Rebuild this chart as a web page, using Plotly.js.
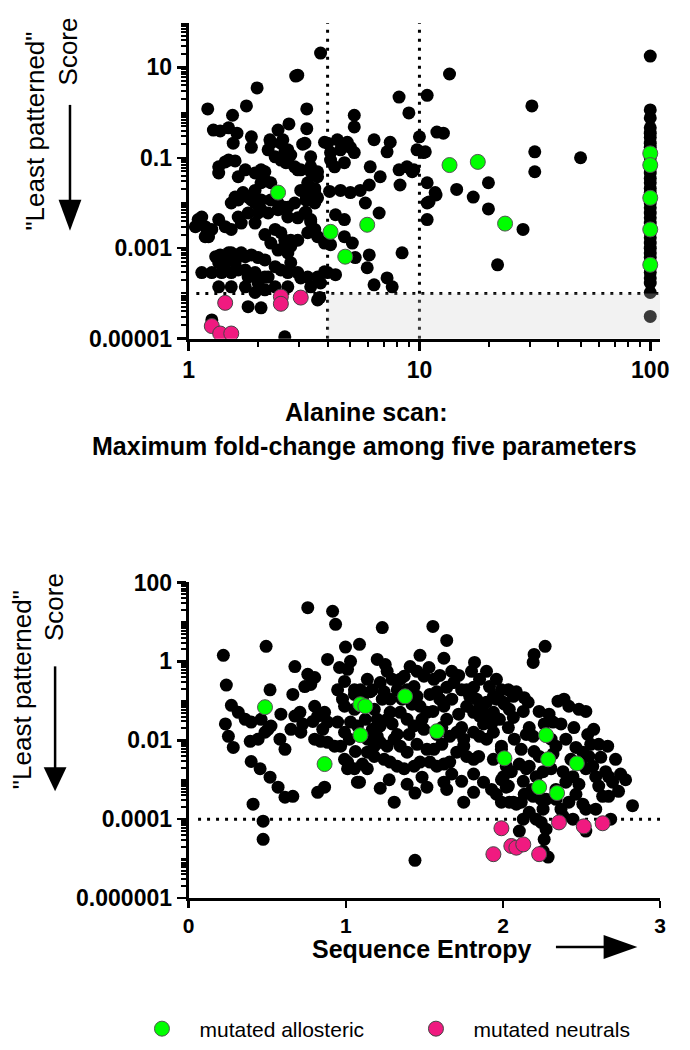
<!DOCTYPE html>
<html>
<head>
<meta charset="utf-8">
<script src="https://cdn.plot.ly/plotly-3.0.1.min.js"></script>
<style>
  body { margin: 0; background: #fff; }
  #graph { width: 690px; height: 1050px; }
</style>
</head>
<body>
<div id="graph"></div>
<script>
// ---- top panel: alanine scan fold-change vs score ----
var topBlackX = [
  3.73,2.91,1.98,1.21,1.78,3.25,1.55,2.72,1.28,1.37,
  1.49,2.44,3.25,1.62,1.87,1.56,2.27,2.56,1.87,3.12,
  2.61,2.77,3.38,1.49,1.59,1.35,1.35,1.64,2.06,1.94,
  2.64,2.88,3.06,3.38,3.62,2.14,2.27,1.59,1.72,1.87,
  2.06,1.53,2.27,2.44,2.61,3.28,3.19,3.38,3.62,1.10,
  1.18,1.26,1.35,1.44,1.53,1.64,1.81,2.00,2.37,2.51,
  2.61,2.77,2.97,3.28,3.52,1.22,1.53,1.64,1.76,1.87,
  2.00,2.14,1.31,1.44,2.44,2.69,2.77,1.14,1.26,1.39,
  1.53,1.64,1.81,2.00,2.21,2.37,2.51,2.69,2.97,3.28,
  3.62,4.0,1.35,1.53,1.76,2.00,2.37,2.69,3.38,3.73,
  1.81,2.06,3.62,1.26,2.61,2.25,3.19,2.51,2.69,2.21,
  2.37,2.51,2.69,3.88,4.12,1.44,1.76,2.14,3.38,3.62,
  1.64,1.81,1.94,2.06,1.94,2.06,2.21,2.44,2.69,2.88,
  3.06,3.28,3.52,3.22,3.52,1.14,1.07,1.18,1.69,1.94,
  2.14,2.27,2.61,2.69,2.97,3.19,3.38,2.77,3.62,3.88,
  1.37,1.49,1.69,1.35,1.59,1.76,1.94,2.14,3.88,1.94,
  2.14,3.70,2.97,8.16,10.8,13.5,5.22,5.22,9.0,4.0,
  4.41,4.87,4.55,5.02,5.22,6.36,7.47,7.24,10,9.76,
  10.4,11.9,12.7,4.12,4.29,4.73,6.12,6.76,8.16,8.83,
  9.3,8.24,10.8,11.7,10.8,10.8,2.97,3.52,4.08,4.55,
  5.02,5.54,6.06,5.83,6.69,3.22,3.38,4.33,4.73,4.12,
  4.73,5.12,5.27,6.06,5.94,6.36,7.24,7.62,8.41,3.06,
  4.33,30.7,31.6,49.9,31.6,10.6,9.46,11.8,14.5,17.1,
  19.9,19.9,28.1,21.8,11.0,
  100,100,100,100,100,100,100,100,100,100,
  100,100,100,100,100,100,100,100,100,100,
  100,100,100,100,100,100,100,100,100,100,
  100,100,100,100,100,100,100
];
var topBlackY = [
  20.6,6.4,3.5,1.2,1.4,1.2,0.87,0.56,0.41,0.39,
  0.46,0.41,0.44,0.35,0.29,0.21,0.21,0.25,0.17,0.2,
  0.135,0.115,0.105,0.089,0.085,0.063,0.046,0.038,0.054,0.046,
  0.078,0.063,0.054,0.063,0.049,0.032,0.028,0.0135,0.017,0.0117,
  0.0117,0.01,0.0117,0.01,0.0081,0.023,0.017,0.0117,0.013,0.0043,
  0.003,0.0026,0.0043,0.003,0.0026,0.0049,0.006,0.006,0.0026,0.0022,
  0.0015,0.0015,0.0015,0.0022,0.0026,0.0018,0.00079,0.00065,0.00065,0.00071,
  0.00062,0.00055,0.00065,0.00048,0.00091,0.00079,0.00048,0.00029,0.00029,0.00029,
  0.00029,0.00033,0.00023,0.00023,0.00023,0.00039,0.00033,0.00029,0.00029,0.00023,
  0.00023,0.00029,0.00014,0.00014,0.00014,0.00017,0.00014,0.00014,0.00014,0.00017,
  0.000051,0.000048,0.000072,0.000026,0.000011,0.25,0.21,0.21,0.15,0.15,
  0.105,0.089,0.081,0.22,0.13,0.081,0.054,0.049,0.049,0.038,
  0.0117,0.0135,0.019,0.028,0.01,0.0071,0.006,0.0071,0.0081,0.01,
  0.019,0.028,0.021,0.0117,0.01,0.0049,0.003,0.0018,0.0036,0.0036,
  0.002,0.0013,0.0011,0.0049,0.0047,0.006,0.0043,0.0011,0.0018,0.0013,
  0.00071,0.00079,0.00079,0.00048,0.00048,0.00033,0.00029,0.00023,0.0003,0.000105,
  0.00012,0.000081,6.7,2.2,2.4,7.1,0.87,0.48,0.98,0.21,
  0.25,0.22,0.15,0.17,0.13,0.25,0.22,0.135,0.29,0.15,
  0.13,0.37,0.35,0.089,0.063,0.078,0.063,0.038,0.054,0.063,
  0.049,0.025,0.028,0.017,0.01,0.0043,0.054,0.017,0.018,0.019,
  0.017,0.019,0.025,0.01,0.006,0.0063,0.0038,0.0055,0.0043,0.0012,
  0.0018,0.0013,0.00062,0.00071,0.00037,0.000155,0.00022,0.00014,0.00079,0.00022,
  0.00026,1.4,0.135,0.1,0.049,0.135,0.054,0.015,0.02,0.0135,
  0.028,0.0074,0.0026,0.00043,0.0105,
  17.7,1.14,0.76,0.46,0.35,0.28,0.21,0.17,0.13,0.1,
  0.078,0.059,0.046,0.035,0.028,0.021,0.017,0.013,0.01,0.0078,
  0.006,0.0047,0.0036,0.0028,0.0022,0.0017,0.0013,0.001,0.00079,0.00062,
  0.00048,0.00037,0.00029,0.00022,0.00017,0.000105,0.000031
];
var topGreenX = [2.44,4.12,5.94,4.77,13.5,17.9,23.5,100,100,100,100,100];
var topGreenY = [0.017,0.0023,0.0033,0.00065,0.069,0.081,0.0035,0.125,0.069,0.013,0.0026,0.00043];
var topPinkX = [1.44,2.51,2.51,3.06,1.26,1.37,1.53];
var topPinkY = [0.000062,0.000085,0.000059,0.000081,0.000019,0.000013,0.000013];

// ---- bottom panel: sequence entropy vs score ----
var botBlackX = [
  0.758,0.916,0.935,0.221,0.493,0.884,0.676,0.24,0.518,0.758,
  0.802,0.777,0.739,0.663,0.272,0.316,0.36,0.398,0.234,0.253,
  0.284,0.392,0.442,0.486,0.524,0.587,0.461,0.505,0.581,0.613,
  0.651,0.676,0.708,0.714,0.802,0.821,0.865,0.884,0.802,0.84,
  0.884,0.929,0.398,0.455,0.518,0.569,0.613,0.663,0.41,0.474,
  0.474,0.821,0.865,0.998,1.03,1.011,0.992,1.055,0.992,0.948,
  0.992,0.967,0.992,1.011,1.074,1.232,1.554,1.642,1.472,1.624,
  1.819,1.087,1.263,1.409,1.371,1.346,1.497,1.56,1.598,1.718,
  1.687,1.642,1.8,1.851,1.813,1.788,1.914,1.939,1.895,1.851,
  2.009,2.066,2.04,1.137,1.093,1.156,1.055,1.219,1.244,1.282,
  1.327,1.434,1.453,1.472,1.516,1.579,1.598,1.624,1.769,1.813,
  1.851,1.895,1.939,1.977,1.055,1.03,1.074,1.181,1.2,1.219,
  1.263,1.282,1.346,1.39,1.434,1.497,1.642,1.661,1.706,1.75,
  1.813,1.851,1.895,1.939,1.137,1.181,1.219,1.263,1.308,1.346,
  1.39,1.137,1.181,1.244,1.282,1.327,1.371,1.434,1.472,1.535,
  1.579,1.624,1.56,1.661,1.706,1.75,1.769,1.813,1.845,1.011,
  1.055,1.087,1.219,1.308,1.44,1.516,1.624,1.642,1.75,1.813,
  1.876,1.813,1.99,2.021,1.939,1.99,2.021,2.053,1.99,2.04,
  2.085,1.44,2.268,2.198,2.192,2.085,2.135,2.16,2.003,2.066,
  2.129,2.23,2.293,2.35,2.388,2.419,2.483,2.527,2.318,2.034,
  2.167,2.192,2.451,2.539,2.609,2.666,2.337,2.318,2.464,2.508,
  2.546,2.198,2.23,2.104,2.148,2.167,1.99,2.003,2.034,2.129,
  2.211,2.255,2.306,2.382,2.4,2.445,2.527,2.571,2.59,2.653,
  2.672,2.697,2.609,2.634,2.672,2.735,2.824,2.066,2.116,2.192,
  2.274,2.337,2.464,2.419,2.508,2.167,2.211,2.255,2.382,2.445,
  2.527,2.59,2.129,2.104,2.243,2.274,2.262,2.255,2.287,2.685,
  2.527,0.979,0.948,1.023,1.106,1.124,1.169,1.232,1.295,1.358,
  1.402,1.453,1.485,1.535,1.554,1.611,1.674,1.718,1.737,1.769,
  1.832,1.876,1.927,1.958,1.99,2.034,2.072,2.116,2.148,2.262,
  2.306,2.369,2.4,2.432,2.495,2.558,2.577,2.622,2.716,2.748,
  2.78,2.135,2.337,2.369,2.483,1.579,1.421,1.327,1.2,1.061,
  1.106,1.516,1.611,1.169,1.295,1.39,1.674,1.737,1.895,1.958,
  1.529,1.453,1.251,1.2,0.96,0.726,0.79,0.853,1.137,1.276,
  1.39,1.485,1.674,1.737,1.927,1.958,2.186,2.243
];
var botBlackY = [
  23,18.6,8.7,1.42,2.4,1.12,0.74,0.25,0.19,0.47,
  0.39,0.26,0.23,0.145,0.077,0.051,0.034,0.029,0.026,0.0126,
  0.0066,0.0094,0.0107,0.016,0.023,0.046,0.034,0.019,0.0107,0.0059,
  0.019,0.041,0.051,0.016,0.073,0.041,0.051,0.029,0.0107,0.0094,
  0.0089,0.0071,0.0029,0.0019,0.00116,0.00065,0.00036,0.00038,0.00024,0.000089,
  0.000031,0.00048,0.00065,2.3,1.0,0.63,0.31,0.19,0.073,0.029,
  0.016,0.0071,0.0033,0.0019,0.00087,7.2,7.7,3.4,1.42,1.2,
  0.94,2.7,0.56,0.74,0.42,0.35,0.42,0.35,0.44,0.44,
  0.29,0.22,0.56,0.35,0.22,0.13,0.23,0.13,0.092,0.069,
  0.082,0.13,0.061,0.35,0.19,0.17,0.145,0.29,0.17,0.11,
  0.19,0.23,0.13,0.073,0.051,0.17,0.11,0.073,0.073,0.051,
  0.041,0.046,0.051,0.034,0.061,0.029,0.023,0.061,0.034,0.023,
  0.034,0.051,0.051,0.034,0.023,0.019,0.034,0.0126,0.016,0.0107,
  0.016,0.0126,0.0107,0.016,0.0107,0.0071,0.0089,0.0071,0.0107,0.0071,
  0.005,0.005,0.0039,0.0033,0.0028,0.0022,0.0019,0.0022,0.0028,0.0028,
  0.0022,0.0025,0.0059,0.0028,0.005,0.0071,0.0039,0.0033,0.0039,0.0028,
  0.0019,0.00087,0.00061,0.00027,0.00046,0.00065,0.00087,0.00057,0.00027,0.0014,
  0.00087,0.00048,0.001,0.00065,0.0033,0.0059,0.0022,0.0016,0.00027,0.00027,
  0.00024,0.0000091,2.4,1.5,0.94,0.17,0.12,0.092,0.092,0.038,
  0.054,0.054,0.046,0.098,0.11,0.073,0.061,0.054,0.029,0.021,
  0.021,0.0126,0.021,0.014,0.0079,0.0071,0.0071,0.0045,0.0066,0.005,
  0.0039,0.0052,0.0039,0.0025,0.0019,0.0022,0.0071,0.0012,0.00069,0.00091,
  0.0012,0.0016,0.0019,0.0016,0.00087,0.0012,0.0019,0.0022,0.0012,0.0016,
  0.0012,0.00087,0.00069,0.00038,0.00038,0.00051,0.00022,0.00027,0.00027,0.00038,
  0.00032,0.00032,0.00043,0.00027,0.00024,0.00015,0.0001,0.00018,0.00012,0.0001,
  0.00018,0.00018,0.0001,0.00005,0.000083,0.000056,0.000031,0.0000155,0.000011,0.0001,
  0.00005,0.11,0.19,0.0107,0.11,0.034,0.019,0.11,0.026,0.11,
  0.014,0.0079,0.034,0.145,0.054,0.021,0.11,0.046,0.021,0.19,
  0.11,0.026,0.026,0.11,0.19,0.19,0.0107,0.0059,0.014,0.026,
  0.0107,0.026,0.0107,0.0033,0.0025,0.0079,0.019,0.0037,0.0033,0.0014,
  0.001,0.00043,0.00057,0.00018,0.00077,0.014,0.082,0.014,0.0126,0.0052,
  0.0025,0.0059,0.0079,0.19,0.35,0.19,0.56,0.19,0.56,0.35,
  0.70,0.56,0.83,1.12,0.70,0.026,0.030,0.019,0.0019,0.001,
  0.00077,0.00116,0.0014,0.00091,0.00057,0.00043,0.00057,0.00032
];
var botGreenX = [0.486,0.865,1.093,1.124,1.377,1.093,1.579,2.009,2.274,2.287,2.47,2.23,2.344];
var botGreenY = [0.069,0.0025,0.082,0.073,0.13,0.0135,0.017,0.0035,0.0135,0.0033,0.0026,0.00065,0.00046];
var botPinkX = [2.356,2.514,2.634,1.99,2.053,2.085,2.129,2.23,1.939];
var botPinkY = [0.000083,0.000066,0.000079,0.000059,0.000021,0.000019,0.000023,0.000013,0.000013];

// ticks
var topXTicks = [1, 10, 100];
var topXTickText = ['1', '10', '100'];
var topYTicks = [0.00001, 0.001, 0.1, 10];
var topYTickText = ['0.00001', '0.001', '0.1', '10'];
var botXTicks = [0, 1, 2, 3];
var botYTicks = [0.000001, 0.0001, 0.01, 1, 100];
var botYTickText = ['0.000001', '0.0001', '0.01', '1', '100'];

var GREEN = '#00ff00', PINK = '#f01a80';
var FONT = 'Liberation Sans, Arial, sans-serif';
var W = 690, H = 1050;
function fx(p) { return p / W; }
function fy(p) { return 1 - p / H; }

function logMinor(lo, hi) {
  var v = [];
  for (var e = lo; e <= hi; e++)
    for (var k = 1; k < 10; k++) v.push(k * Math.pow(10, e));
  return v;
}

var black = {color: '#000', size: 13, line: {width: 0}};
var green = {color: GREEN, size: 15, line: {color: '#555', width: 1}};
var pink = {color: PINK, size: 15, line: {color: '#444', width: 1}};
var NB = '\u00a0\u00a0\u00a0';

var data = [
  {x: topBlackX, y: topBlackY, xaxis: 'x', yaxis: 'y', mode: 'markers', marker: black, showlegend: false, hoverinfo: 'skip'},
  {x: topGreenX, y: topGreenY, xaxis: 'x', yaxis: 'y', mode: 'markers', marker: green, name: NB + 'mutated allosteric'},
  {x: topPinkX, y: topPinkY, xaxis: 'x', yaxis: 'y', mode: 'markers', marker: pink, name: NB + 'mutated neutrals'},
  {x: botBlackX, y: botBlackY, xaxis: 'x2', yaxis: 'y2', mode: 'markers', marker: black, showlegend: false, hoverinfo: 'skip'},
  {x: botGreenX, y: botGreenY, xaxis: 'x2', yaxis: 'y2', mode: 'markers', marker: green, showlegend: false},
  {x: botPinkX, y: botPinkY, xaxis: 'x2', yaxis: 'y2', mode: 'markers', marker: pink, showlegend: false}
];

var axisBase = {
  showline: true, linecolor: '#000', linewidth: 3,
  ticks: 'outside', ticklen: 9, tickwidth: 2.5, tickcolor: '#000',
  showgrid: false, zeroline: false,
  tickfont: {family: FONT, size: 23, color: '#000', weight: 'bold'}
};
function ax(extra) { return Object.assign({}, axisBase, extra); }
var minorBase = {ticks: 'outside', ticklen: 5, tickwidth: 2, tickcolor: '#000', tickmode: 'array'};

var dotted = {color: '#000', width: 3, dash: '3px,6px'};
function label(text, x, y, size, bold, angle) {
  return {text: text, xref: 'paper', yref: 'paper', x: fx(x), y: fy(y), xanchor: 'center', yanchor: 'middle',
    textangle: angle || 0, showarrow: false,
    font: {family: FONT, size: size, color: '#000', weight: bold ? 'bold' : 'normal'}};
}
function tri(pts) {
  return 'M' + pts.map(function (p) { return fx(p[0]) + ',' + fy(p[1]); }).join(' L') + ' Z';
}

var layout = {
  width: W, height: H,
  margin: {l: 0, r: 0, t: 0, b: 0},
  paper_bgcolor: '#fff', plot_bgcolor: 'rgba(0,0,0,0)',
  font: {family: FONT, color: '#000'},
  xaxis: ax({domain: [fx(190), fx(665)], anchor: 'y', type: 'log', range: [0, 2.043],
    tickmode: 'array', tickvals: topXTicks, ticktext: topXTickText,
    minor: Object.assign({tickvals: logMinor(0, 1)}, minorBase)}),
  yaxis: ax({domain: [fy(339), fy(23)], anchor: 'x', type: 'log', range: [-5, 1.98],
    tickmode: 'array', tickvals: topYTicks, ticktext: topYTickText,
    minor: Object.assign({tickvals: logMinor(-5, 1)}, minorBase)}),
  xaxis2: ax({domain: [fx(190), fx(665)], anchor: 'y2', range: [0, 3],
    tickmode: 'array', tickvals: botXTicks, ticklen: 7,
    tickfont: {family: FONT, size: 21, color: '#000', weight: 'bold'}}),
  yaxis2: ax({domain: [fy(899), fy(583)], anchor: 'x2', type: 'log', range: [-6, 2],
    tickmode: 'array', tickvals: botYTicks, ticktext: botYTickText,
    minor: Object.assign({tickvals: logMinor(-6, 1)}, minorBase)}),
  showlegend: true,
  legend: {orientation: 'h', x: fx(143), y: fy(1030), xanchor: 'left', yanchor: 'middle',
    font: {family: FONT, size: 21, color: '#000'}, entrywidth: 229, entrywidthmode: 'pixels',
    bgcolor: 'rgba(0,0,0,0)'},
  shapes: [
    {type: 'rect', xref: 'x', yref: 'y', x0: 4, x1: 110.4, y0: 0.00001, y1: 0.0001,
      fillcolor: 'rgb(208,208,208)', opacity: 0.28, line: {width: 0}, layer: 'above'},
    {type: 'line', xref: 'x', yref: 'y', x0: 4, x1: 4, y0: 0.00001, y1: 95.5, line: dotted, layer: 'below'},
    {type: 'line', xref: 'x', yref: 'y', x0: 10, x1: 10, y0: 0.00001, y1: 95.5, line: dotted, layer: 'below'},
    {type: 'line', xref: 'x', yref: 'y', x0: 1.08, x1: 110.4, y0: 0.0001, y1: 0.0001, line: dotted, layer: 'below'},
    {type: 'line', xref: 'x2', yref: 'y2', x0: 0.06, x1: 3, y0: 0.0001, y1: 0.0001, line: dotted, layer: 'below'},
    // axis-title arrows
    {type: 'line', xref: 'paper', yref: 'paper', x0: fx(70.5), x1: fx(70.5), y0: fy(105), y1: fy(205), line: {color: '#000', width: 2.5}},
    {type: 'path', xref: 'paper', yref: 'paper', path: tri([[59, 200], [82, 200], [70.5, 231]]), fillcolor: '#000', line: {width: 0}},
    {type: 'line', xref: 'paper', yref: 'paper', x0: fx(55.5), x1: fx(55.5), y0: fy(667), y1: fy(772), line: {color: '#000', width: 2.5}},
    {type: 'path', xref: 'paper', yref: 'paper', path: tri([[44, 768], [67, 768], [55.5, 792]]), fillcolor: '#000', line: {width: 0}},
    {type: 'line', xref: 'paper', yref: 'paper', x0: fx(560), x1: fx(612), y0: fy(948), y1: fy(948), line: {color: '#000', width: 2.5}},
    {type: 'path', xref: 'paper', yref: 'paper', path: tri([[608, 936], [608, 960], [642, 948]]), fillcolor: '#000', line: {width: 0}}
  ],
  annotations: [
    label('"Least patterned"', 35, 131, 26, false, -90),
    label('Score', 68, 52, 26, false, -90),
    label('"Least patterned"', 23, 690, 26, false, -90),
    label('Score', 55, 608, 26, false, -90),
    label('Alanine scan:', 369, 412, 25, true),
    label('Maximum fold-change among five parameters', 367, 446, 25, true),
    label('Sequence Entropy', 425, 950, 25, true)
  ]
};

Plotly.newPlot('graph', data, layout, {displayModeBar: false, staticPlot: true});
</script>
</body>
</html>
